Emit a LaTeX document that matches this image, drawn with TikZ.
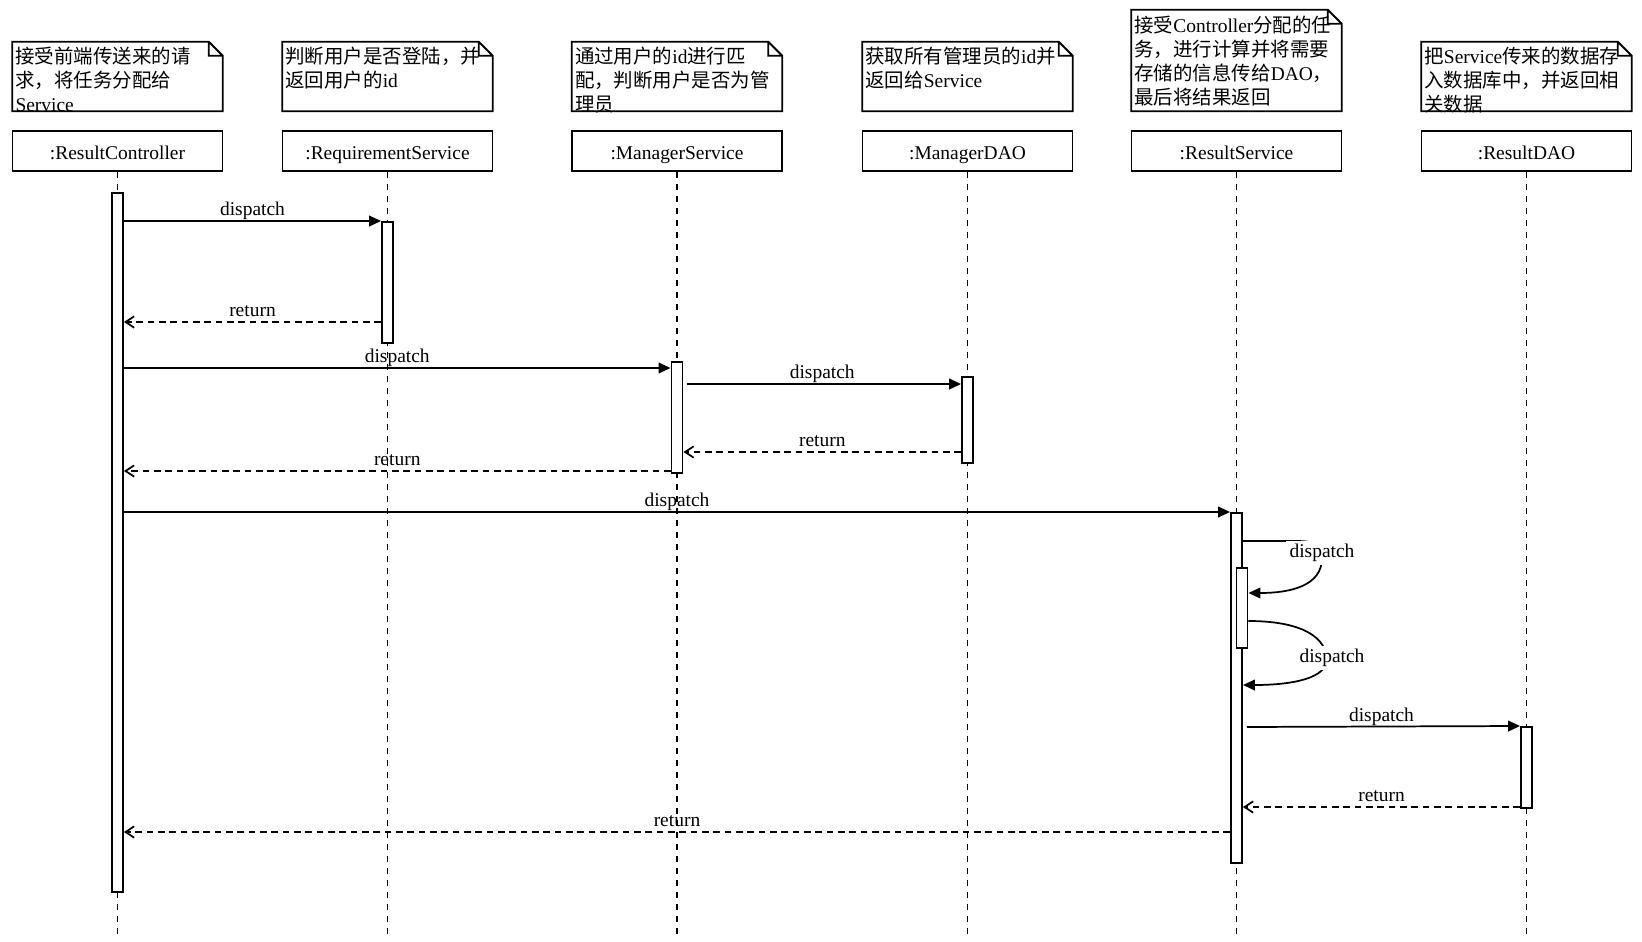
\documentclass[tikz,border=0pt]{standalone}
\usepackage{fontspec}
\setmainfont{Liberation Serif}
\newfontfamily\cjk{Noto Sans CJK SC}
\usetikzlibrary{arrows.meta}

\tikzset{
  lifebox/.style={draw, line width=1.4pt, fill=white, minimum width=157.5pt, minimum height=30pt, inner sep=0pt, text height=1.3em, text depth=0.1em},
  notearea/.style={minimum width=157.5pt, minimum height=51.75pt, inner sep=0pt},
  notefold/.style={draw, line width=1.4pt, fill=white},
  notetext/.style={anchor=north west, inner sep=0pt, align=left, font=\fontsize{14.6}{17.9}\selectfont},
  lifeline/.style={line width=1.3pt, dash pattern=on 4.5pt off 4.5pt},
  actbar/.style={draw, line width=1.4pt, fill=white, minimum width=8.25pt, inner sep=0pt, anchor=north},
  call/.style={line width=1.3pt, -{Triangle[length=9pt,width=8pt]}},
  reply/.style={line width=1.3pt, dash pattern=on 5pt off 3.5pt, -{Straight Barb[length=6.5pt,width=8.5pt]}},
  msglabel/.style={above, inner sep=1pt, text depth=0.22em},
  selflabel/.style={fill=white, inner sep=2.5pt},
}

\begin{document}
\begin{tikzpicture}[x=0.75pt, y=-0.75pt, font=\fontsize{14.6}{17.5}\selectfont]
\path[use as bounding box, fill=white] (0,0) rectangle (1642,942);

\node[lifebox] (rc) at (117.5,151) {:ResultController};
\node[lifebox] (rqs) at (387.5,151) {:RequirementService};
\node[lifebox] (ms) at (677,151) {:ManagerService};
\node[lifebox] (mdao) at (967.5,151) {:ManagerDAO};
\node[lifebox] (rs) at (1236.5,151) {:ResultService};
\node[lifebox] (rdao) at (1526.5,151) {:ResultDAO};

\coordinate (rc-end) at (117.5,937);
\coordinate (rqs-end) at (387.5,937);
\coordinate (ms-end) at (677,937);
\coordinate (mdao-end) at (967.5,937);
\coordinate (rs-end) at (1236.5,937);
\coordinate (rdao-end) at (1526.5,937);

\draw[lifeline] (rc) -- (rc-end);
\draw[lifeline] (rqs) -- (rqs-end);
\draw[lifeline] (ms) -- (ms-end);
\draw[lifeline] (mdao) -- (mdao-end);
\draw[lifeline] (rs) -- (rs-end);
\draw[lifeline] (rdao) -- (rdao-end);

\node[actbar, minimum height=524.25pt] (rc-bar) at (117.5,192) {};
\node[actbar, minimum height=90.75pt] (rqs-bar) at (387.5,221) {};
\node[actbar, minimum height=83.25pt] (ms-bar) at (677,361) {};
\node[actbar, minimum height=64.5pt] (mdao-bar) at (967.5,376) {};
\node[actbar, minimum height=262.5pt] (rs-bar) at (1236.5,512) {};
\node[actbar, minimum height=60pt] (rs-bar2) at (1242,567) {};
\node[actbar, minimum height=60.75pt] (rdao-bar) at (1526.5,726) {};

\draw[call] (rc-bar.east |- 0,221) -- node[msglabel] {dispatch} (rqs-bar.north west);
\draw[reply] (rqs-bar.west |- 0,322) -- node[msglabel] {return} (rc-bar.east |- 0,322);
\draw[call] (rc-bar.east |- 0,368) -- node[msglabel] {dispatch} (ms-bar.west |- 0,368);
\draw[call, shorten <=2.5pt] (ms-bar.east |- 0,384) -- node[msglabel] {dispatch} (mdao-bar.west |- 0,384);
\draw[reply] (mdao-bar.west |- 0,452) -- node[msglabel] {return} (ms-bar.east |- 0,452);
\draw[reply] (ms-bar.west |- 0,471) -- node[msglabel] {return} (rc-bar.east |- 0,471);
\draw[call] (rc-bar.east |- 0,512) -- node[msglabel] {dispatch} (rs-bar.north west);

\draw[call] (rs-bar.east |- 0,541) -- (1296,541) .. controls (1318,541) and (1322,546) .. (1322,558)
  .. controls (1322,586) and (1290,593) .. (rs-bar2.east |- 0,593);
\node[selflabel] (s1) at (1322,553) {dispatch};
\draw[call] (rs-bar2.east |- 0,621) .. controls (1292,621) and (1324,632) .. (1327,658)
  .. controls (1328,679) and (1290,685) .. (rs-bar.east |- 0,685);
\node[selflabel] (s2) at (1332,658) {dispatch};

\draw[call, shorten <=3pt] (rs-bar.east |- 0,727) -- node[msglabel] {dispatch} (rdao-bar.north west);
\draw[reply] (rdao-bar.west |- 0,807) -- node[msglabel] {return} (rs-bar.east |- 0,807);
\draw[reply] (rs-bar.west |- 0,832) -- node[msglabel] {return} (rc-bar.east |- 0,832);

\node[notearea] (n1) at (117.5,76.5) {};
\node[notearea] (n2) at (387.5,76.5) {};
\node[notearea] (n3) at (677,76.5) {};
\node[notearea] (n4) at (967.5,76.5) {};
\node[notearea, minimum height=75.75pt] (n5) at (1236.5,60.5) {};
\node[notearea] (n6) at (1526.5,76.5) {};

\draw[notefold] (n1.south west) -- (n1.north west) -- ([xshift=-10.5pt]n1.north east) -- ([yshift=-10.5pt]n1.north east) -- (n1.south east) -- cycle ([xshift=-10.5pt]n1.north east) |- ([yshift=-10.5pt]n1.north east);
\draw[notefold] (n2.south west) -- (n2.north west) -- ([xshift=-10.5pt]n2.north east) -- ([yshift=-10.5pt]n2.north east) -- (n2.south east) -- cycle ([xshift=-10.5pt]n2.north east) |- ([yshift=-10.5pt]n2.north east);
\draw[notefold] (n3.south west) -- (n3.north west) -- ([xshift=-10.5pt]n3.north east) -- ([yshift=-10.5pt]n3.north east) -- (n3.south east) -- cycle ([xshift=-10.5pt]n3.north east) |- ([yshift=-10.5pt]n3.north east);
\draw[notefold] (n4.south west) -- (n4.north west) -- ([xshift=-10.5pt]n4.north east) -- ([yshift=-10.5pt]n4.north east) -- (n4.south east) -- cycle ([xshift=-10.5pt]n4.north east) |- ([yshift=-10.5pt]n4.north east);
\draw[notefold] (n5.south west) -- (n5.north west) -- ([xshift=-10.5pt]n5.north east) -- ([yshift=-10.5pt]n5.north east) -- (n5.south east) -- cycle ([xshift=-10.5pt]n5.north east) |- ([yshift=-10.5pt]n5.north east);
\draw[notefold] (n6.south west) -- (n6.north west) -- ([xshift=-10.5pt]n6.north east) -- ([yshift=-10.5pt]n6.north east) -- (n6.south east) -- cycle ([xshift=-10.5pt]n6.north east) |- ([yshift=-10.5pt]n6.north east);

\node[notetext] (t1) at ([shift={(3,5)}]n1.north west) {{\cjk 接受前端传送来的请}\\{\cjk 求，将任务分配给}\\Service};
\node[notetext] (t2) at ([shift={(3,5)}]n2.north west) {{\cjk 判断用户是否登陆，并}\\{\cjk 返回用户的}id};
\node[notetext] (t3) at ([shift={(3,5)}]n3.north west) {{\cjk 通过用户的}id{\cjk 进行匹}\\{\cjk 配，判断用户是否为管}\\{\cjk 理员}};
\node[notetext] (t4) at ([shift={(3,5)}]n4.north west) {{\cjk 获取所有管理员的}id{\cjk 并}\\{\cjk 返回给}Service};
\node[notetext] (t5) at ([shift={(3,6)}]n5.north west) {{\cjk 接受}Controller{\cjk 分配的任}\\{\cjk 务，进行计算并将需要}\\{\cjk 存储的信息传给}DAO{\cjk ，}\\{\cjk 最后将结果返回}};
\node[notetext] (t6) at ([shift={(3,5)}]n6.north west) {{\cjk 把}Service{\cjk 传来的数据存}\\{\cjk 入数据库中，并返回相}\\{\cjk 关数据}};
\end{tikzpicture}
\end{document}
